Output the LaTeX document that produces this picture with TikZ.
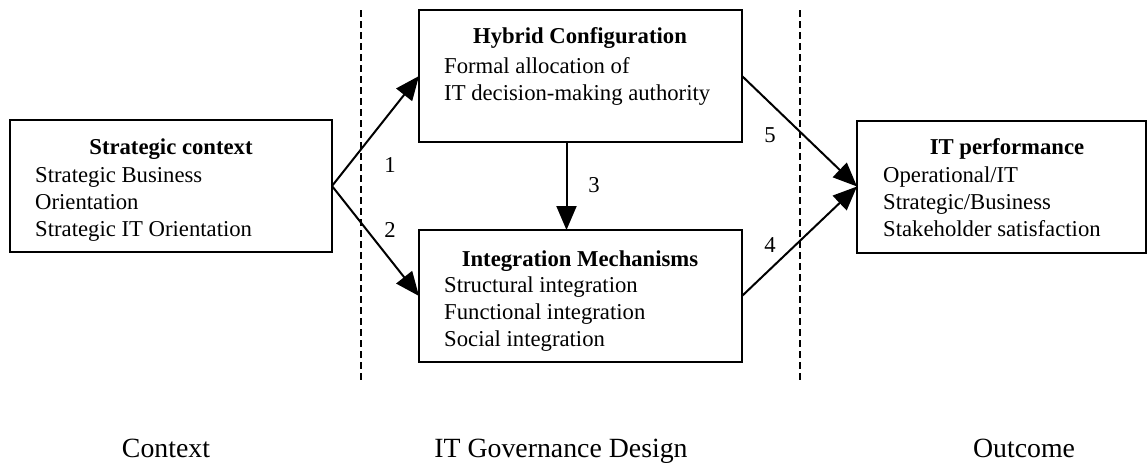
\documentclass[tikz,border=0pt]{standalone}
\usepackage{fontspec}
\setmainfont{Liberation Serif}
\usetikzlibrary{arrows.meta}
\begin{document}
\begin{tikzpicture}[x=1pt,y=-1pt,
  box/.style={draw,line width=2pt,inner sep=0pt,outer sep=0pt},
  conn/.style={line width=2pt,-{Triangle[length=24pt,width=20pt]}},
  sepline/.style={line width=1.2pt,dash pattern=on 7pt off 4pt},
  txt/.style={inner sep=0pt,font=\fontsize{22.7}{27}\selectfont},
  head/.style={txt,anchor=base,font=\fontsize{22.7}{27}\selectfont\bfseries},
  body/.style={txt,anchor=base west},
  zone/.style={inner sep=0pt,anchor=base,font=\fontsize{27.8}{33}\selectfont}]
\useasboundingbox (0,0) rectangle (1148,463);
% boxes
\node[box,minimum width=322pt,minimum height=132pt] (ctx) at (171,186) {};
\node[box,minimum width=323pt,minimum height=132pt] (hyb) at (580.5,76) {};
\node[box,minimum width=323pt,minimum height=132pt] (int) at (580.5,296) {};
\node[box,minimum width=289pt,minimum height=132pt] (out) at (1001.5,186.5) {};
% box texts
\node[head] (ctxh) at (171,154) {Strategic context};
\node[body] (ctxb) at (35,182) {\begin{tabular}[t]{@{}l@{}}Strategic Business\\Orientation\\Strategic IT Orientation\end{tabular}};
\node[head] (hybh) at (580,43) {Hybrid Configuration};
\node[body] (hybb) at (444,73) {\begin{tabular}[t]{@{}l@{}}Formal allocation of\\IT decision-making authority\end{tabular}};
\node[head] (inth) at (580,266) {Integration Mechanisms};
\node[body] (intb) at (444,292) {\begin{tabular}[t]{@{}l@{}}Structural integration\\Functional integration\\Social integration\end{tabular}};
\node[head] (outh) at (1007,154) {IT performance};
\node[body] (outb) at (883,182) {\begin{tabular}[t]{@{}l@{}}Operational/IT\\Strategic/Business\\Stakeholder satisfaction\end{tabular}};
% dashed separators
\coordinate (d1t) at (361,10);
\coordinate (d1b) at (361,380);
\coordinate (d2t) at (800,10);
\coordinate (d2b) at (800,380);
\draw[sepline] (d1t) -- (d1b);
\draw[sepline] (d2t) -- (d2b);
% connectors
\draw[conn] (ctx.east) -- (hyb.west);
\draw[conn] (ctx.east) -- (int.west);
\draw[conn] ([xshift=-14pt]hyb.south) -- ([xshift=-14pt]int.north);
\draw[conn] (hyb.east) -- (out.west);
\draw[conn] (int.east) -- (out.west);
% connector labels
\node[txt] (n1) at (390,165) {1};
\node[txt] (n2) at (390,230) {2};
\node[txt] (n3) at (594,185) {3};
\node[txt] (n5) at (770,135) {5};
\node[txt] (n4) at (770,245) {4};
% zone labels
\node[zone] (zc) at (166,457) {Context};
\node[zone] (zg) at (561,457) {IT Governance Design};
\node[zone] (zo) at (1024,457) {Outcome};
\end{tikzpicture}
\end{document}
